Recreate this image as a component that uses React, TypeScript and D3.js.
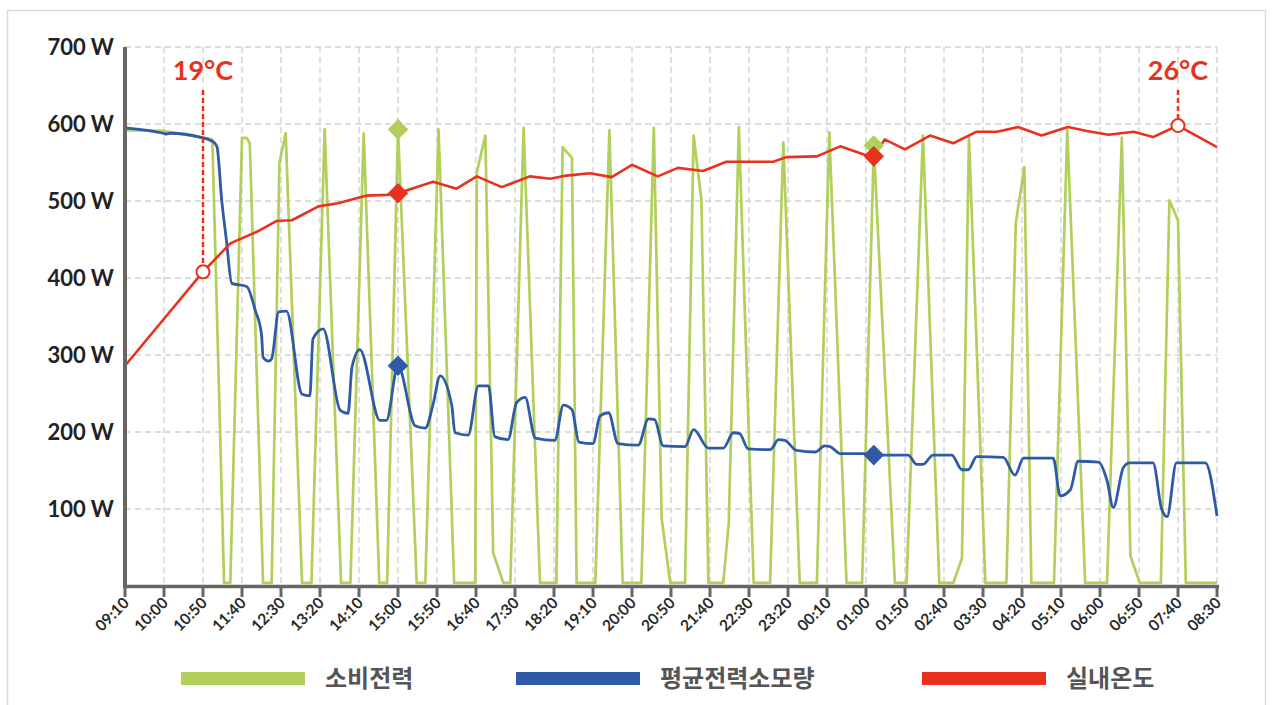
import { useEffect, useRef } from "react";
import * as d3 from "d3";

// minutes after 09:10
const xTickLabels = [
  "09:10", "10:00", "10:50", "11:40", "12:30", "13:20", "14:10", "15:00",
  "15:50", "16:40", "17:30", "18:20", "19:10", "20:00", "20:50", "21:40",
  "22:30", "23:20", "00:10", "01:00", "01:50", "02:40", "03:30", "04:20",
  "05:10", "06:00", "06:50", "07:40", "08:30",
];
const yTickValues = [100, 200, 300, 400, 500, 600, 700];

// 소비전력 (W)
const powerMinutes = [
  0, 49, 96, 112, 127, 135, 150, 156, 160, 177,
  188, 198, 206, 227, 239, 256, 277, 289, 306, 326,
  336, 350, 374, 385, 402, 422, 449, 451, 462, 472,
  485, 494, 511, 532, 553, 561, 573, 579, 603, 621,
  638, 662, 678, 688, 699, 718, 729, 739, 748, 767,
  774, 787, 806, 827, 844, 865, 887, 903, 925, 945,
  960, 987, 1002, 1023, 1044, 1062, 1073, 1082, 1103, 1130,
  1142, 1153, 1162, 1191, 1208, 1231, 1259, 1278, 1289, 1301,
  1328, 1339, 1350, 1360, 1400,
];
const powerWatts = [
  592, 591, 583, 580, 4, 4, 582, 582, 575, 4,
  4, 550, 588, 4, 4, 593, 4, 4, 588, 4,
  4, 593, 4, 4, 593, 4, 4, 537, 585, 43,
  4, 4, 595, 4, 4, 570, 556, 4, 4, 592,
  4, 4, 595, 88, 4, 4, 585, 501, 4, 4,
  81, 596, 4, 4, 576, 4, 4, 589, 4, 4,
  572, 4, 4, 585, 4, 4, 36, 583, 4, 4,
  471, 544, 4, 4, 592, 4, 4, 582, 39, 4,
  4, 501, 475, 4, 4,
];

// 평균전력소모량 (W)
const avgMinutes = [
  0, 49, 53, 58, 96, 113, 118, 124, 130, 137,
  156, 167, 175, 177, 184, 188, 197, 207, 227, 237,
  241, 254, 276, 286, 291, 301, 327, 335, 350, 372,
  385, 395, 404, 419, 423, 440, 453, 466, 474, 491,
  502, 513, 526, 551, 562, 573, 582, 600, 609, 620,
  632, 658, 671, 679, 690, 718, 729, 748, 767, 780,
  788, 799, 827, 838, 846, 861, 885, 897, 904, 917,
  947, 960, 1004, 1015, 1023, 1036, 1060, 1073, 1081, 1092,
  1126, 1141, 1152, 1190, 1199, 1212, 1222, 1248, 1259, 1267,
  1280, 1288, 1318, 1329, 1336, 1348, 1385, 1400,
];
const avgWatts = [
  595, 588, 587, 588, 583, 577, 570, 501, 449, 393,
  389, 358, 327, 297, 292, 295, 356, 357, 249, 247,
  321, 334, 228, 224, 284, 307, 215, 215, 286, 208,
  205, 236, 273, 234, 199, 196, 260, 260, 194, 190,
  238, 245, 192, 189, 235, 229, 187, 185, 221, 225,
  185, 183, 217, 216, 182, 181, 203, 179, 179, 199,
  198, 178, 177, 190, 189, 176, 174, 182, 181, 172,
  172, 170, 170, 158, 158, 170, 170, 151, 151, 168,
  167, 144, 166, 166, 117, 125, 162, 161, 137, 102,
  154, 160, 160, 100, 90, 160, 160, 91,
];

// 실내온도, plotted on the W axis
const tempMinutes = [
  0, 100, 135, 169, 194, 214, 248, 273, 310, 336,
  350, 395, 425, 451, 483, 519, 545, 566, 596, 624,
  650, 683, 709, 741, 771, 831, 848, 887, 917, 951,
  960, 974, 1000, 1032, 1062, 1092, 1118, 1145, 1175, 1209,
  1233, 1261, 1293, 1318, 1350, 1400,
];
const tempWatts = [
  286, 408, 445, 460, 474, 475, 493, 497, 507, 508,
  510, 525, 516, 532, 518, 532, 529, 533, 536, 531,
  547, 532, 543, 539, 551, 551, 557, 558, 571, 559,
  558, 580, 567, 585, 575, 590, 590, 596, 585, 596,
  591, 586, 590, 583, 598, 570,
];

const tempCallouts = [
  { minute: 100, label: "19°C" },
  { minute: 1350, label: "26°C" },
];
const diamondMinutes = [350, 960];

const GREEN = "#b1cf5a";
const BLUE = "#2f5aa6";
const RED = "#e8321e";
const GRID = "#d2d2d2";
const AXIS = "#666666";

const valueAt = (ms: number[], vs: number[], m: number) => vs[ms.indexOf(m)];

export default function App() {
  const ref = useRef<SVGSVGElement>(null);

  useEffect(() => {
    if (!ref.current) return;
    const svg = d3.select(ref.current);
    svg.selectAll("*").remove();

    const x = d3.scaleLinear().domain([0, 1400]).range([125, 1217]);
    const y = d3.scaleLinear().domain([0, 700]).range([586, 47]);
    const tickMinutes = xTickLabels.map((_, i) => i * 50);

    // frame
    svg.append("rect")
      .attr("x", 7.5).attr("y", 10.5).attr("width", 1258).attr("height", 720)
      .attr("fill", "#fff").attr("stroke", "#dcdcdc").attr("stroke-width", 1.5);

    // grid
    const grid = svg.append("g").attr("stroke", GRID).attr("stroke-width", 1.4).attr("stroke-dasharray", "6 4");
    grid.selectAll("line.h").data(yTickValues).join("line")
      .attr("x1", x(0)).attr("x2", x(1400))
      .attr("y1", (d) => y(d)).attr("y2", (d) => y(d));
    grid.selectAll("line.v").data(tickMinutes.slice(1)).join("line")
      .attr("x1", (d) => x(d)).attr("x2", (d) => x(d))
      .attr("y1", y(700)).attr("y2", y(0));

    // series
    const line = (ms: number[], vs: number[], curve: d3.CurveFactory) =>
      d3.line<number>().x((_, i) => x(ms[i])).y((d) => y(d)).curve(curve)(vs);

    svg.append("path").attr("d", line(powerMinutes, powerWatts, d3.curveLinear))
      .attr("fill", "none").attr("stroke", GREEN).attr("stroke-width", 2.7).attr("stroke-linejoin", "round");
    svg.append("path").attr("d", line(avgMinutes, avgWatts, d3.curveMonotoneX))
      .attr("fill", "none").attr("stroke", BLUE).attr("stroke-width", 2.8).attr("stroke-linejoin", "round");
    svg.append("path").attr("d", line(tempMinutes, tempWatts, d3.curveLinear))
      .attr("fill", "none").attr("stroke", RED).attr("stroke-width", 2.6).attr("stroke-linejoin", "round");

    // axes
    svg.append("line")
      .attr("x1", x(0)).attr("x2", x(0)).attr("y1", y(700)).attr("y2", y(0) + 2)
      .attr("stroke", AXIS).attr("stroke-width", 4);
    svg.append("line")
      .attr("x1", x(0) - 2).attr("x2", x(1400) + 2).attr("y1", y(0) + 0.5).attr("y2", y(0) + 0.5)
      .attr("stroke", AXIS).attr("stroke-width", 3.5);
    svg.selectAll("line.tick").data(tickMinutes).join("line")
      .attr("x1", (d) => x(d)).attr("x2", (d) => x(d))
      .attr("y1", y(0)).attr("y2", y(0) + 11)
      .attr("stroke", AXIS).attr("stroke-width", 3);

    svg.selectAll("text.ylab").data(yTickValues).join("text")
      .attr("x", 114).attr("y", (d) => y(d)).attr("dy", "0.36em")
      .attr("text-anchor", "end")
      .attr("font-family", "Lato").attr("font-weight", 700).attr("font-size", 22)
      .attr("fill", "#222").text((d) => `${d} W`);

    svg.selectAll("text.xlab").data(tickMinutes).join("text")
      .attr("transform", (d) => `translate(${x(d) + 5},${y(0) + 18}) rotate(-45)`)
      .attr("text-anchor", "end")
      .attr("font-family", "Lato").attr("font-weight", 700).attr("font-size", 15.5)
      .attr("fill", "#2a2a2a").text((_, i) => xTickLabels[i]);

    // temperature callouts
    tempCallouts.forEach((c) => {
      const cx = x(c.minute);
      const cy = y(valueAt(tempMinutes, tempWatts, c.minute));
      svg.append("line")
        .attr("x1", cx).attr("x2", cx).attr("y1", 90).attr("y2", cy)
        .attr("stroke", RED).attr("stroke-width", 2.5).attr("stroke-dasharray", "5 3");
      svg.append("circle").attr("cx", cx).attr("cy", cy).attr("r", 6.5)
        .attr("fill", "#fff").attr("stroke", RED).attr("stroke-width", 2);
      svg.append("text").attr("x", cx).attr("y", 80).attr("text-anchor", "middle")
        .attr("font-family", "Lato").attr("font-weight", 700).attr("font-size", 27)
        .attr("fill", RED).text(c.label);
    });

    // diamonds
    const diamond = d3.symbol().type(d3.symbolDiamond2).size(270);
    const series = [
      { ms: powerMinutes, vs: powerWatts, color: GREEN },
      { ms: avgMinutes, vs: avgWatts, color: BLUE },
      { ms: tempMinutes, vs: tempWatts, color: RED },
    ];
    series.forEach((s) => {
      diamondMinutes.forEach((m) => {
        svg.append("path").attr("d", diamond()!)
          .attr("transform", `translate(${x(m)},${y(valueAt(s.ms, s.vs, m))})`)
          .attr("fill", s.color);
      });
    });

    // legend
    const legend = [
      { label: "소비전력", color: GREEN, x: 181 },
      { label: "평균전력소모량", color: BLUE, x: 516 },
      { label: "실내온도", color: RED, x: 922 },
    ];
    legend.forEach((l) => {
      svg.append("rect").attr("x", l.x).attr("y", 672).attr("width", 124).attr("height", 13).attr("fill", l.color);
      svg.append("text").attr("x", l.x + 144).attr("y", 679).attr("dy", "0.35em")
        .attr("font-family", "'Noto Sans CJK KR'").attr("font-weight", 700).attr("font-size", 24)
        .attr("fill", "#555").text(l.label);
    });
  }, []);

  return (
    <svg ref={ref} width={1275} height={705}
      style={{ position: "absolute", left: 0, top: 0, background: "#fff" }} />
  );
}
